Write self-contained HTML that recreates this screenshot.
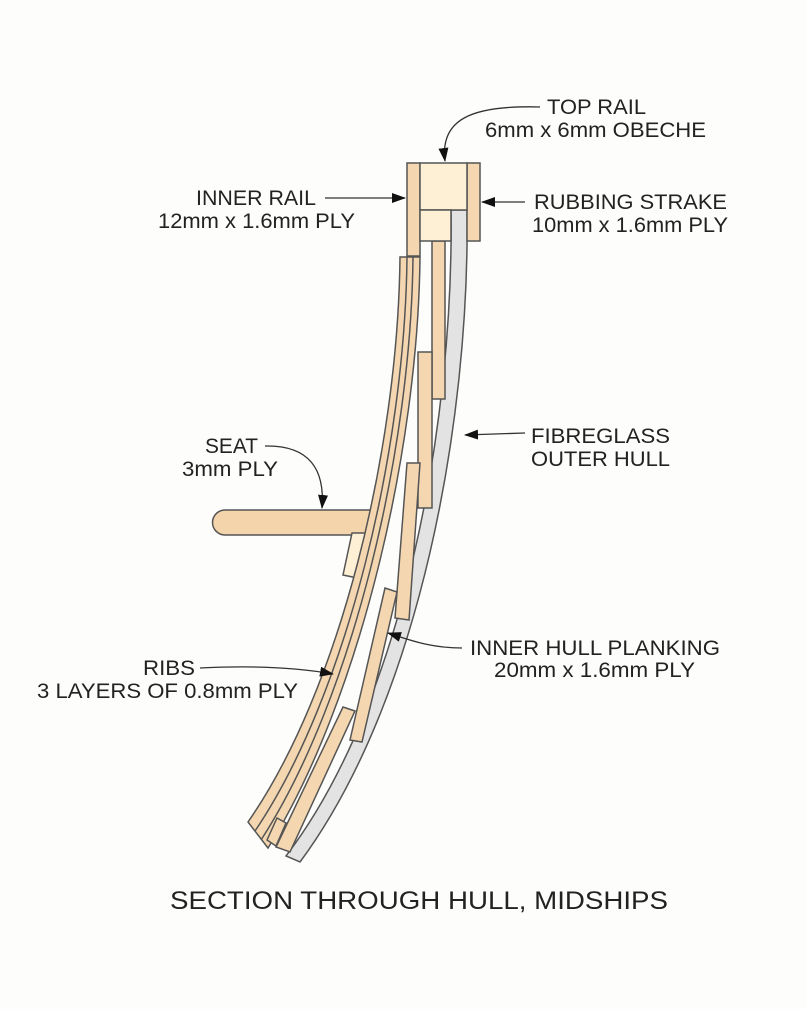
<!DOCTYPE html>
<html><head><meta charset="utf-8"><style>
html,body{margin:0;padding:0;background:#fdfdfb;}
svg{display:block}
text{font-family:"Liberation Sans",sans-serif;fill:#222;font-size:21px}
</style></head><body>
<svg width="807" height="1009" viewBox="0 0 807 1009" xmlns="http://www.w3.org/2000/svg">
<defs>
<marker id="ah" markerWidth="14" markerHeight="10" refX="13" refY="5" orient="auto" markerUnits="userSpaceOnUse">
<path d="M0,0 L14,5 L0,10 Z" fill="#111"/></marker>
</defs>
<rect width="807" height="1009" fill="#fdfdfb"/>
<g stroke="#555" stroke-width="1.5">
<path d="M451 210 L467 210 C470 420 420 700 300 862 L286 856 C405 700 454 420 451 210 Z" fill="#e3e3e3"/>
<path d="M225 510 L385 510 L385 535 L225 535 A12.5 12.5 0 0 1 225 510 Z" fill="#f4d4aa"/>
<polygon points="352,533 377,533 367,580 343,575" fill="#fdf0d4"/>
<path d="M400 257 L420 257 C418 450 360 700 268 848 L248 822 C340 690 398 450 400 257 Z" fill="#f4d7b0"/>
<path d="M407 257 C405 450 347 695 255 831" fill="none"/>
<path d="M413 257 C411 450 353 698 261 840" fill="none"/>
<polygon points="432,241 445,241 445,399 432,399" fill="#f4d7b0"/>
<polygon points="418,352 432,352 432,508 418,508" fill="#f4d7b0"/>
<polygon points="407,463 420,463 409,620 395,618" fill="#f4d7b0"/>
<polygon points="385,588 397,592 362,742 350,740" fill="#f4d7b0"/>
<polygon points="343,707 355,711 290,852 276,847" fill="#f4d7b0"/>
<polygon points="277,818 286,823 276,846 267,840" fill="#f4d7b0"/>
<rect x="407" y="163" width="13" height="93" fill="#f4d7b0"/>
<rect x="467" y="163" width="13" height="78" fill="#f4d7b0"/>
<rect x="420" y="163" width="47" height="47" fill="#fdf0d4"/>
<rect x="420" y="210" width="31" height="31" fill="#fdf0d4"/>
</g>
<g stroke="#333" stroke-width="1.3" fill="none" marker-end="url(#ah)">
<path d="M540 107 C470 105 440 120 445 161"/>
<path d="M325 198 L405 198"/>
<path d="M525 202 L482 202"/>
<path d="M525 433 L465 435"/>
<path d="M265 446 C310 445 325 470 322 508"/>
<path d="M200 668 C260 665 300 668 333 674"/>
<path d="M462 648 C430 648 410 640 388 633"/>
</g>
<text x="547" y="114" textLength="99" lengthAdjust="spacingAndGlyphs">TOP RAIL</text>
<text x="485" y="137" textLength="221" lengthAdjust="spacingAndGlyphs">6mm x 6mm OBECHE</text>
<text x="196" y="205" textLength="120" lengthAdjust="spacingAndGlyphs">INNER RAIL</text>
<text x="158" y="228" textLength="197" lengthAdjust="spacingAndGlyphs">12mm x 1.6mm PLY</text>
<text x="534" y="209" textLength="193" lengthAdjust="spacingAndGlyphs">RUBBING STRAKE</text>
<text x="532" y="232" textLength="196" lengthAdjust="spacingAndGlyphs">10mm x 1.6mm PLY</text>
<text x="531" y="443" textLength="139" lengthAdjust="spacingAndGlyphs">FIBREGLASS</text>
<text x="531" y="466" textLength="139" lengthAdjust="spacingAndGlyphs">OUTER HULL</text>
<text x="205" y="453" textLength="53" lengthAdjust="spacingAndGlyphs">SEAT</text>
<text x="182" y="476" textLength="96" lengthAdjust="spacingAndGlyphs">3mm PLY</text>
<text x="143" y="675" textLength="52" lengthAdjust="spacingAndGlyphs">RIBS</text>
<text x="37" y="698" textLength="261" lengthAdjust="spacingAndGlyphs">3 LAYERS OF 0.8mm PLY</text>
<text x="470" y="655" textLength="250" lengthAdjust="spacingAndGlyphs">INNER HULL PLANKING</text>
<text x="494" y="677" textLength="201" lengthAdjust="spacingAndGlyphs">20mm x 1.6mm PLY</text>
<text x="170" y="909" style="font-size:25px" textLength="498" lengthAdjust="spacingAndGlyphs">SECTION THROUGH HULL, MIDSHIPS</text>
</svg>
</body></html>
